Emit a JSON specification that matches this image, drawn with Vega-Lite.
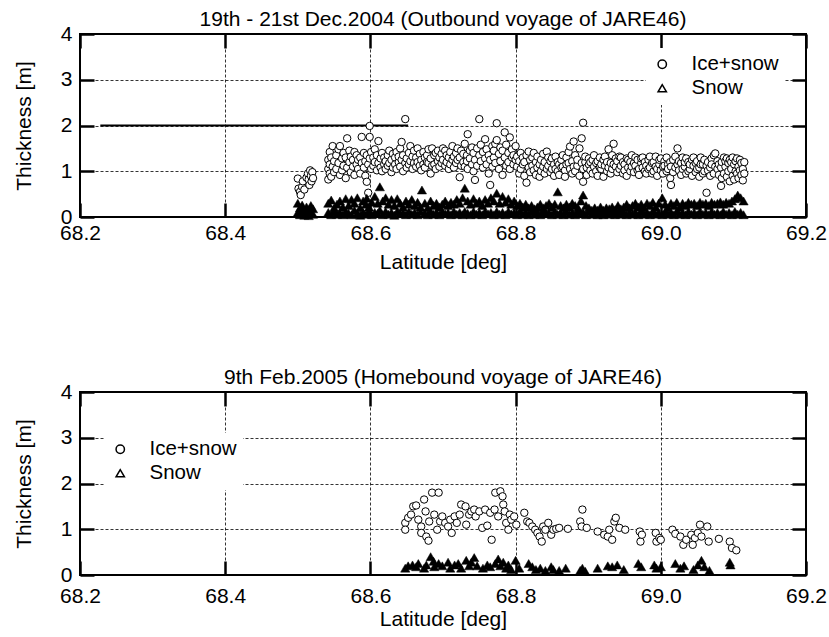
{
"$schema":"https://vega.github.io/schema/vega-lite/v6.json",
"background":"white",
"padding":{"left":12,"top":8,"right":2,"bottom":2},
"bounds":"flush",
"spacing":175,
"datasets":{
"line":[{"a":68.228,"b":68.652,"t":2}],
"topIce":[
{"lat":68.500,"t":0.84},{"lat":68.501,"t":0.62},{"lat":68.503,"t":0.55},{"lat":68.504,"t":0.48},{"lat":68.506,"t":0.66},{"lat":68.507,"t":0.78},{"lat":68.509,"t":0.6},{"lat":68.512,"t":0.86},{"lat":68.514,"t":0.95},{"lat":68.515,"t":0.82},{"lat":68.516,"t":0.7},{"lat":68.517,"t":1.02},{"lat":68.518,"t":0.9},{"lat":68.519,"t":0.78},{"lat":68.520,"t":0.98},{"lat":68.521,"t":0.85},
{"lat":68.542,"t":0.82},{"lat":68.542,"t":1.05},{"lat":68.542,"t":1.25},{"lat":68.544,"t":0.95},{"lat":68.544,"t":1.15},{"lat":68.544,"t":1.42},{"lat":68.546,"t":0.88},{"lat":68.546,"t":1.3},{"lat":68.548,"t":1.1},{"lat":68.548,"t":1.55},{"lat":68.550,"t":0.98},{"lat":68.550,"t":1.22},{"lat":68.553,"t":1.35},{"lat":68.553,"t":1.05},{"lat":68.556,"t":1.48},{"lat":68.556,"t":1.18},{"lat":68.558,"t":1.55},{"lat":68.558,"t":0.92},{"lat":68.561,"t":1.28},{"lat":68.561,"t":1.02},{"lat":68.563,"t":1.12},{"lat":68.563,"t":1.4},{"lat":68.566,"t":0.85},{"lat":68.566,"t":1.3},{"lat":68.568,"t":1.72},{"lat":68.568,"t":1.08},{"lat":68.571,"t":1.2},{"lat":68.571,"t":1.45},{"lat":68.573,"t":0.98},{"lat":68.573,"t":1.32},{"lat":68.576,"t":1.25},{"lat":68.576,"t":1.1},{"lat":68.578,"t":1.42},{"lat":68.578,"t":0.92},{"lat":68.581,"t":1.15},{"lat":68.581,"t":1.35},{"lat":68.583,"t":1.05},{"lat":68.583,"t":1.25},{"lat":68.586,"t":1.3},{"lat":68.586,"t":0.95},{"lat":68.588,"t":1.75},{"lat":68.588,"t":1.18},{"lat":68.591,"t":1.4},{"lat":68.591,"t":1.08},{"lat":68.593,"t":1.22},{"lat":68.593,"t":0.9},{"lat":68.595,"t":0.77},{"lat":68.595,"t":1.35},{"lat":68.597,"t":0.53},{"lat":68.597,"t":1.15},{"lat":68.599,"t":1.99},{"lat":68.599,"t":1.75},{"lat":68.599,"t":1.28},{"lat":68.601,"t":1.05},{"lat":68.601,"t":1.42},{"lat":68.604,"t":1.3},{"lat":68.604,"t":1.12},{"lat":68.606,"t":1.2},{"lat":68.606,"t":1.48},{"lat":68.609,"t":1.02},{"lat":68.609,"t":1.35},{"lat":68.611,"t":1.66},{"lat":68.611,"t":1.18},{"lat":68.614,"t":1.28},{"lat":68.614,"t":1.08},{"lat":68.616,"t":1.4},{"lat":68.616,"t":1.0},{"lat":68.619,"t":1.15},{"lat":68.619,"t":1.3},{"lat":68.621,"t":1.22},{"lat":68.621,"t":1.05},{"lat":68.624,"t":1.35},{"lat":68.624,"t":1.12},{"lat":68.626,"t":1.18},{"lat":68.626,"t":1.45},{"lat":68.629,"t":1.25},{"lat":68.629,"t":0.98},{"lat":68.631,"t":1.08},{"lat":68.631,"t":1.38},{"lat":68.634,"t":1.3},{"lat":68.634,"t":1.15},{"lat":68.636,"t":1.42},{"lat":68.636,"t":1.05},{"lat":68.639,"t":1.2},{"lat":68.639,"t":1.32},{"lat":68.641,"t":1.1},{"lat":68.641,"t":1.5},{"lat":68.643,"t":1.64},{"lat":68.643,"t":1.25},{"lat":68.645,"t":1.0},{"lat":68.645,"t":1.35},{"lat":68.648,"t":2.14},{"lat":68.648,"t":1.18},{"lat":68.650,"t":1.28},{"lat":68.650,"t":1.08},{"lat":68.653,"t":1.4},{"lat":68.653,"t":1.15},{"lat":68.655,"t":1.22},{"lat":68.655,"t":1.55},{"lat":68.658,"t":1.05},{"lat":68.658,"t":1.32},{"lat":68.660,"t":1.18},{"lat":68.660,"t":1.45},{"lat":68.663,"t":1.3},{"lat":68.663,"t":1.1},{"lat":68.665,"t":1.5},{"lat":68.665,"t":1.2},{"lat":68.668,"t":1.12},{"lat":68.668,"t":1.38},{"lat":68.670,"t":1.25},{"lat":68.670,"t":1.02},{"lat":68.673,"t":1.42},{"lat":68.673,"t":1.15},{"lat":68.675,"t":1.08},{"lat":68.675,"t":1.3},{"lat":68.678,"t":1.35},{"lat":68.678,"t":1.2},{"lat":68.680,"t":1.18},{"lat":68.680,"t":1.48},{"lat":68.683,"t":1.28},{"lat":68.683,"t":0.95},{"lat":68.685,"t":1.5},{"lat":68.685,"t":1.12},{"lat":68.688,"t":1.15},{"lat":68.688,"t":1.35},{"lat":68.690,"t":1.4},{"lat":68.690,"t":1.05},{"lat":68.693,"t":1.22},{"lat":68.693,"t":1.45},{"lat":68.695,"t":1.1},{"lat":68.695,"t":1.3},{"lat":68.698,"t":1.38},{"lat":68.698,"t":1.18},{"lat":68.700,"t":1.25},{"lat":68.700,"t":1.5},{"lat":68.703,"t":1.45},{"lat":68.703,"t":1.12},{"lat":68.705,"t":1.2},{"lat":68.705,"t":1.35},{"lat":68.708,"t":1.3},{"lat":68.708,"t":1.05},{"lat":68.710,"t":1.15},{"lat":68.710,"t":1.42},{"lat":68.713,"t":1.55},{"lat":68.713,"t":1.25},{"lat":68.715,"t":1.08},{"lat":68.715,"t":1.32},{"lat":68.718,"t":1.4},{"lat":68.718,"t":1.18},{"lat":68.720,"t":1.25},{"lat":68.720,"t":1.5},{"lat":68.723,"t":0.87},{"lat":68.723,"t":1.3},{"lat":68.725,"t":1.45},{"lat":68.725,"t":1.12},{"lat":68.728,"t":1.2},{"lat":68.728,"t":1.38},{"lat":68.730,"t":1.6},{"lat":68.730,"t":1.1},{"lat":68.733,"t":1.35},{"lat":68.733,"t":1.22},{"lat":68.734,"t":1.81},{"lat":68.734,"t":1.05},{"lat":68.737,"t":1.28},{"lat":68.737,"t":1.45},{"lat":68.740,"t":1.15},{"lat":68.740,"t":1.52},{"lat":68.742,"t":1.4},{"lat":68.742,"t":1.0},{"lat":68.744,"t":0.81},{"lat":68.744,"t":1.25},{"lat":68.747,"t":1.5},{"lat":68.747,"t":1.12},{"lat":68.750,"t":2.14},{"lat":68.750,"t":1.35},{"lat":68.752,"t":1.22},{"lat":68.752,"t":1.58},{"lat":68.755,"t":1.08},{"lat":68.755,"t":1.42},{"lat":68.758,"t":1.7},{"lat":68.758,"t":1.28},{"lat":68.760,"t":1.15},{"lat":68.760,"t":1.48},{"lat":68.763,"t":1.35},{"lat":68.763,"t":0.95},{"lat":68.765,"t":0.7},{"lat":68.765,"t":1.25},{"lat":68.768,"t":1.55},{"lat":68.768,"t":1.1},{"lat":68.770,"t":1.3},{"lat":68.770,"t":1.45},{"lat":68.772,"t":1.18},{"lat":68.772,"t":1.6},{"lat":68.774,"t":2.05},{"lat":68.774,"t":1.68},{"lat":68.777,"t":1.38},{"lat":68.777,"t":1.05},{"lat":68.779,"t":1.22},{"lat":68.779,"t":1.52},{"lat":68.782,"t":1.45},{"lat":68.782,"t":0.92},{"lat":68.785,"t":1.85},{"lat":68.785,"t":1.3},{"lat":68.787,"t":1.12},{"lat":68.787,"t":1.58},{"lat":68.790,"t":1.4},{"lat":68.790,"t":1.2},{"lat":68.792,"t":1.74},{"lat":68.792,"t":1.05},{"lat":68.795,"t":1.3},{"lat":68.795,"t":1.48},{"lat":68.797,"t":1.15},{"lat":68.797,"t":1.35},{"lat":68.800,"t":1.25},{"lat":68.800,"t":1.55},
{"lat":68.802,"t":1.1},{"lat":68.802,"t":1.32},{"lat":68.805,"t":1.22},{"lat":68.805,"t":0.95},{"lat":68.807,"t":1.4},{"lat":68.807,"t":1.05},{"lat":68.810,"t":1.15},{"lat":68.810,"t":1.3},{"lat":68.812,"t":0.9},{"lat":68.812,"t":1.2},{"lat":68.815,"t":0.75},{"lat":68.815,"t":1.35},{"lat":68.818,"t":1.43},{"lat":68.818,"t":1.08},{"lat":68.820,"t":1.25},{"lat":68.820,"t":0.98},{"lat":68.823,"t":1.12},{"lat":68.823,"t":1.3},{"lat":68.825,"t":1.02},{"lat":68.825,"t":1.4},{"lat":68.828,"t":1.2},{"lat":68.828,"t":0.92},{"lat":68.830,"t":1.32},{"lat":68.830,"t":1.08},{"lat":68.833,"t":1.15},{"lat":68.833,"t":0.88},{"lat":68.835,"t":1.0},{"lat":68.835,"t":1.25},{"lat":68.838,"t":1.38},{"lat":68.838,"t":1.1},{"lat":68.840,"t":1.2},{"lat":68.840,"t":0.95},{"lat":68.843,"t":1.43},{"lat":68.843,"t":1.05},{"lat":68.845,"t":1.12},{"lat":68.845,"t":1.3},{"lat":68.848,"t":0.98},{"lat":68.848,"t":1.22},{"lat":68.850,"t":1.28},{"lat":68.850,"t":1.05},{"lat":68.853,"t":1.15},{"lat":68.853,"t":0.9},{"lat":68.855,"t":1.05},{"lat":68.855,"t":1.32},{"lat":68.858,"t":1.2},{"lat":68.858,"t":1.0},{"lat":68.860,"t":0.92},{"lat":68.860,"t":1.15},{"lat":68.863,"t":1.25},{"lat":68.863,"t":1.08},{"lat":68.865,"t":1.1},{"lat":68.865,"t":1.35},{"lat":68.868,"t":1.02},{"lat":68.868,"t":0.88},{"lat":68.870,"t":1.3},{"lat":68.870,"t":1.15},{"lat":68.873,"t":1.18},{"lat":68.873,"t":1.42},{"lat":68.875,"t":1.54},{"lat":68.875,"t":1.05},{"lat":68.878,"t":1.22},{"lat":68.878,"t":0.95},{"lat":68.880,"t":1.65},{"lat":68.880,"t":1.1},{"lat":68.882,"t":1.35},{"lat":68.882,"t":1.0},{"lat":68.885,"t":1.12},{"lat":68.885,"t":1.25},{"lat":68.888,"t":1.5},{"lat":68.888,"t":0.9},{"lat":68.891,"t":1.72},{"lat":68.891,"t":1.18},{"lat":68.893,"t":2.06},{"lat":68.893,"t":0.77},{"lat":68.893,"t":1.05},{"lat":68.896,"t":1.2},{"lat":68.896,"t":1.32},{"lat":68.898,"t":1.08},{"lat":68.898,"t":0.92},{"lat":68.901,"t":1.15},{"lat":68.901,"t":1.28},{"lat":68.903,"t":1.02},{"lat":68.903,"t":1.2},{"lat":68.906,"t":1.25},{"lat":68.906,"t":0.95},{"lat":68.908,"t":1.1},{"lat":68.908,"t":1.35},{"lat":68.911,"t":1.18},{"lat":68.911,"t":1.0},{"lat":68.913,"t":0.9},{"lat":68.913,"t":1.22},{"lat":68.916,"t":1.3},{"lat":68.916,"t":1.08},{"lat":68.918,"t":1.05},{"lat":68.918,"t":1.15},{"lat":68.921,"t":1.25},{"lat":68.921,"t":0.88},{"lat":68.923,"t":1.12},{"lat":68.923,"t":1.32},{"lat":68.926,"t":1.0},{"lat":68.926,"t":1.2},{"lat":68.928,"t":1.48},{"lat":68.928,"t":1.08},{"lat":68.931,"t":1.18},{"lat":68.931,"t":0.95},{"lat":68.933,"t":1.35},{"lat":68.933,"t":1.05},{"lat":68.935,"t":1.6},{"lat":68.935,"t":1.15},{"lat":68.938,"t":1.1},{"lat":68.938,"t":1.28},{"lat":68.940,"t":1.22},{"lat":68.940,"t":0.98},{"lat":68.943,"t":1.05},{"lat":68.943,"t":1.32},{"lat":68.945,"t":1.3},{"lat":68.945,"t":1.12},{"lat":68.948,"t":0.95},{"lat":68.948,"t":1.2},{"lat":68.950,"t":1.15},{"lat":68.950,"t":1.02},{"lat":68.953,"t":1.28},{"lat":68.953,"t":0.9},{"lat":68.955,"t":1.08},{"lat":68.955,"t":1.25},{"lat":68.958,"t":1.2},{"lat":68.958,"t":1.0},{"lat":68.960,"t":1.35},{"lat":68.960,"t":1.1},{"lat":68.963,"t":0.98},{"lat":68.963,"t":1.18},{"lat":68.965,"t":1.12},{"lat":68.965,"t":1.3},{"lat":68.968,"t":1.25},{"lat":68.968,"t":1.02},{"lat":68.970,"t":1.05},{"lat":68.970,"t":0.92},{"lat":68.973,"t":1.18},{"lat":68.973,"t":1.28},{"lat":68.975,"t":1.3},{"lat":68.975,"t":1.08},{"lat":68.978,"t":1.0},{"lat":68.978,"t":1.2},{"lat":68.980,"t":1.12},{"lat":68.980,"t":0.95},{"lat":68.983,"t":1.25},{"lat":68.983,"t":1.05},{"lat":68.985,"t":1.08},{"lat":68.985,"t":1.32},{"lat":68.988,"t":0.95},{"lat":68.988,"t":1.18},{"lat":68.990,"t":1.2},{"lat":68.990,"t":1.0},{"lat":68.993,"t":1.32},{"lat":68.993,"t":1.1},{"lat":68.995,"t":1.05},{"lat":68.995,"t":0.9},{"lat":68.998,"t":1.15},{"lat":68.998,"t":1.25},{"lat":69.000,"t":1.28},{"lat":69.000,"t":1.02},{"lat":69.003,"t":1.1},{"lat":69.003,"t":0.95},{"lat":69.005,"t":1.22},{"lat":69.005,"t":1.12},{"lat":69.008,"t":1.0},{"lat":69.008,"t":1.3},{"lat":69.010,"t":1.15},{"lat":69.010,"t":1.05},{"lat":69.013,"t":0.85},{"lat":69.013,"t":1.2},{"lat":69.014,"t":0.7},{"lat":69.014,"t":1.1},{"lat":69.017,"t":1.25},{"lat":69.017,"t":0.98},{"lat":69.020,"t":1.08},{"lat":69.020,"t":1.32},{"lat":69.023,"t":1.5},{"lat":69.023,"t":1.15},{"lat":69.025,"t":1.02},{"lat":69.025,"t":1.22},{"lat":69.028,"t":1.18},{"lat":69.028,"t":0.92},{"lat":69.030,"t":1.3},{"lat":69.030,"t":1.05},{"lat":69.033,"t":1.1},{"lat":69.033,"t":1.2},{"lat":69.035,"t":0.95},{"lat":69.035,"t":1.28},{"lat":69.038,"t":1.2},{"lat":69.038,"t":1.0},{"lat":69.040,"t":1.05},{"lat":69.040,"t":1.15},{"lat":69.043,"t":1.25},{"lat":69.043,"t":0.9},{"lat":69.045,"t":1.12},{"lat":69.045,"t":1.3},{"lat":69.048,"t":0.98},{"lat":69.048,"t":1.18},{"lat":69.050,"t":1.22},{"lat":69.050,"t":1.05},{"lat":69.053,"t":1.08},{"lat":69.053,"t":0.88},{"lat":69.055,"t":1.3},{"lat":69.055,"t":1.15},{"lat":69.058,"t":1.15},{"lat":69.058,"t":0.95},{"lat":69.060,"t":1.0},{"lat":69.060,"t":1.25},{"lat":69.063,"t":0.53},{"lat":69.063,"t":1.12},{"lat":69.065,"t":1.2},{"lat":69.065,"t":1.02},{"lat":69.068,"t":1.08},{"lat":69.068,"t":0.9},{"lat":69.070,"t":1.28},{"lat":69.070,"t":1.15},{"lat":69.073,"t":1.35},{"lat":69.073,"t":0.95},{"lat":69.075,"t":1.39},{"lat":69.075,"t":1.1},{"lat":69.078,"t":1.05},{"lat":69.078,"t":1.22},{"lat":69.080,"t":0.92},{"lat":69.080,"t":1.15},{"lat":69.083,"t":0.68},{"lat":69.083,"t":1.08},{"lat":69.084,"t":1.2},{"lat":69.084,"t":0.85},{"lat":69.087,"t":1.3},{"lat":69.087,"t":0.95},{"lat":69.089,"t":1.1},{"lat":69.089,"t":1.22},{"lat":69.091,"t":0.88},{"lat":69.091,"t":1.28},{"lat":69.093,"t":1.18},{"lat":69.093,"t":1.0},{"lat":69.095,"t":1.25},{"lat":69.095,"t":0.78},{"lat":69.097,"t":1.05},{"lat":69.097,"t":1.2},{"lat":69.099,"t":0.9},{"lat":69.099,"t":1.3},{"lat":69.101,"t":1.15},{"lat":69.101,"t":0.82},{"lat":69.103,"t":1.22},{"lat":69.103,"t":1.0},{"lat":69.105,"t":0.95},{"lat":69.105,"t":1.28},{"lat":69.107,"t":1.1},{"lat":69.107,"t":0.85},{"lat":69.109,"t":1.25},{"lat":69.109,"t":1.02},{"lat":69.111,"t":0.92},{"lat":69.111,"t":1.18},{"lat":69.113,"t":1.05},{"lat":69.113,"t":0.8},{"lat":69.115,"t":1.2},{"lat":69.115,"t":0.95}
],
"topSnow":[
{"lat":68.500,"t":0.3},{"lat":68.500,"t":0.1},{"lat":68.503,"t":0.2},{"lat":68.503,"t":0.05},{"lat":68.506,"t":0.26},{"lat":68.506,"t":0.12},{"lat":68.509,"t":0.15},{"lat":68.509,"t":0.04},{"lat":68.512,"t":0.22},{"lat":68.512,"t":0.08},{"lat":68.515,"t":0.12},{"lat":68.515,"t":0.03},{"lat":68.518,"t":0.25},{"lat":68.518,"t":0.1},{"lat":68.521,"t":0.18},{"lat":68.521,"t":0.06},
{"lat":68.542,"t":0.3},{"lat":68.542,"t":0.1},{"lat":68.546,"t":0.37},{"lat":68.546,"t":0.05},{"lat":68.550,"t":0.2},{"lat":68.550,"t":0.12},{"lat":68.554,"t":0.28},{"lat":68.554,"t":0.06},{"lat":68.558,"t":0.35},{"lat":68.558,"t":0.1},{"lat":68.562,"t":0.22},{"lat":68.562,"t":0.05},{"lat":68.566,"t":0.4},{"lat":68.566,"t":0.12},{"lat":68.570,"t":0.25},{"lat":68.570,"t":0.08},{"lat":68.574,"t":0.38},{"lat":68.574,"t":0.05},{"lat":68.578,"t":0.3},{"lat":68.578,"t":0.15},{"lat":68.582,"t":0.42},{"lat":68.582,"t":0.08},{"lat":68.586,"t":0.2},{"lat":68.586,"t":0.04},{"lat":68.590,"t":0.35},{"lat":68.590,"t":0.1},{"lat":68.594,"t":0.28},{"lat":68.594,"t":0.06},{"lat":68.595,"t":0.41},{"lat":68.598,"t":0.22},{"lat":68.598,"t":0.12},{"lat":68.602,"t":0.32},{"lat":68.602,"t":0.05},{"lat":68.606,"t":0.45},{"lat":68.606,"t":0.1},{"lat":68.610,"t":0.3},{"lat":68.610,"t":0.08},{"lat":68.613,"t":0.66},{"lat":68.613,"t":0.15},{"lat":68.617,"t":0.35},{"lat":68.617,"t":0.05},{"lat":68.621,"t":0.42},{"lat":68.621,"t":0.12},{"lat":68.625,"t":0.28},{"lat":68.625,"t":0.06},{"lat":68.629,"t":0.38},{"lat":68.629,"t":0.1},{"lat":68.633,"t":0.25},{"lat":68.633,"t":0.04},{"lat":68.637,"t":0.4},{"lat":68.637,"t":0.12},{"lat":68.641,"t":0.3},{"lat":68.641,"t":0.07},{"lat":68.645,"t":0.22},{"lat":68.645,"t":0.1},{"lat":68.649,"t":0.35},{"lat":68.649,"t":0.05},{"lat":68.653,"t":0.28},{"lat":68.653,"t":0.12},{"lat":68.657,"t":0.38},{"lat":68.657,"t":0.06},{"lat":68.661,"t":0.25},{"lat":68.661,"t":0.1},{"lat":68.665,"t":0.32},{"lat":68.665,"t":0.05},{"lat":68.669,"t":0.22},{"lat":68.669,"t":0.12},{"lat":68.671,"t":0.59},{"lat":68.675,"t":0.3},{"lat":68.675,"t":0.08},{"lat":68.679,"t":0.2},{"lat":68.679,"t":0.05},{"lat":68.683,"t":0.35},{"lat":68.683,"t":0.12},{"lat":68.687,"t":0.25},{"lat":68.687,"t":0.06},{"lat":68.691,"t":0.3},{"lat":68.691,"t":0.1},{"lat":68.695,"t":0.22},{"lat":68.695,"t":0.05},{"lat":68.699,"t":0.28},{"lat":68.699,"t":0.12},{"lat":68.703,"t":0.35},{"lat":68.703,"t":0.07},{"lat":68.707,"t":0.25},{"lat":68.707,"t":0.1},{"lat":68.711,"t":0.32},{"lat":68.711,"t":0.05},{"lat":68.715,"t":0.28},{"lat":68.715,"t":0.12},{"lat":68.719,"t":0.38},{"lat":68.719,"t":0.06},{"lat":68.723,"t":0.3},{"lat":68.723,"t":0.1},{"lat":68.727,"t":0.42},{"lat":68.727,"t":0.05},{"lat":68.730,"t":0.63},{"lat":68.730,"t":0.12},{"lat":68.734,"t":0.35},{"lat":68.734,"t":0.08},{"lat":68.738,"t":0.28},{"lat":68.738,"t":0.05},{"lat":68.742,"t":0.4},{"lat":68.742,"t":0.12},{"lat":68.746,"t":0.3},{"lat":68.746,"t":0.06},{"lat":68.750,"t":0.35},{"lat":68.750,"t":0.1},{"lat":68.754,"t":0.25},{"lat":68.754,"t":0.05},{"lat":68.758,"t":0.38},{"lat":68.758,"t":0.12},{"lat":68.762,"t":0.3},{"lat":68.762,"t":0.07},{"lat":68.766,"t":0.42},{"lat":68.766,"t":0.1},{"lat":68.770,"t":0.35},{"lat":68.770,"t":0.05},{"lat":68.774,"t":0.52},{"lat":68.774,"t":0.12},{"lat":68.778,"t":0.3},{"lat":68.778,"t":0.06},{"lat":68.782,"t":0.45},{"lat":68.782,"t":0.1},{"lat":68.786,"t":0.32},{"lat":68.786,"t":0.05},{"lat":68.790,"t":0.4},{"lat":68.790,"t":0.12},{"lat":68.794,"t":0.28},{"lat":68.794,"t":0.07},{"lat":68.798,"t":0.35},{"lat":68.798,"t":0.1},{"lat":68.802,"t":0.25},{"lat":68.802,"t":0.05},{"lat":68.806,"t":0.3},{"lat":68.806,"t":0.12},{"lat":68.810,"t":0.22},{"lat":68.810,"t":0.06},{"lat":68.814,"t":0.28},{"lat":68.814,"t":0.1},{"lat":68.818,"t":0.2},{"lat":68.818,"t":0.05},{"lat":68.822,"t":0.25},{"lat":68.822,"t":0.12},{"lat":68.826,"t":0.18},{"lat":68.826,"t":0.06},{"lat":68.830,"t":0.22},{"lat":68.830,"t":0.1},{"lat":68.834,"t":0.28},{"lat":68.834,"t":0.05},{"lat":68.838,"t":0.2},{"lat":68.838,"t":0.12},{"lat":68.842,"t":0.25},{"lat":68.842,"t":0.07},{"lat":68.846,"t":0.3},{"lat":68.846,"t":0.1},{"lat":68.850,"t":0.22},{"lat":68.850,"t":0.05},{"lat":68.854,"t":0.28},{"lat":68.854,"t":0.12},{"lat":68.858,"t":0.55},{"lat":68.858,"t":0.06},{"lat":68.862,"t":0.25},{"lat":68.862,"t":0.1},{"lat":68.866,"t":0.2},{"lat":68.866,"t":0.05},{"lat":68.870,"t":0.28},{"lat":68.870,"t":0.12},{"lat":68.874,"t":0.22},{"lat":68.874,"t":0.06},{"lat":68.878,"t":0.3},{"lat":68.878,"t":0.1},{"lat":68.882,"t":0.25},{"lat":68.882,"t":0.05},{"lat":68.886,"t":0.2},{"lat":68.886,"t":0.12},{"lat":68.890,"t":0.35},{"lat":68.890,"t":0.07},{"lat":68.893,"t":0.48},{"lat":68.893,"t":0.1},{"lat":68.897,"t":0.25},{"lat":68.897,"t":0.05},{"lat":68.901,"t":0.2},{"lat":68.901,"t":0.12},{"lat":68.905,"t":0.15},{"lat":68.905,"t":0.06},{"lat":68.909,"t":0.2},{"lat":68.909,"t":0.1},{"lat":68.913,"t":0.15},{"lat":68.913,"t":0.05},{"lat":68.917,"t":0.22},{"lat":68.917,"t":0.1},{"lat":68.921,"t":0.15},{"lat":68.921,"t":0.05},{"lat":68.925,"t":0.2},{"lat":68.925,"t":0.1},{"lat":68.929,"t":0.18},{"lat":68.929,"t":0.06},{"lat":68.933,"t":0.22},{"lat":68.933,"t":0.1},{"lat":68.937,"t":0.16},{"lat":68.937,"t":0.05},{"lat":68.941,"t":0.25},{"lat":68.941,"t":0.1},{"lat":68.945,"t":0.18},{"lat":68.945,"t":0.06},{"lat":68.949,"t":0.22},{"lat":68.949,"t":0.1},{"lat":68.953,"t":0.28},{"lat":68.953,"t":0.05},{"lat":68.957,"t":0.2},{"lat":68.957,"t":0.1},{"lat":68.961,"t":0.25},{"lat":68.961,"t":0.06},{"lat":68.965,"t":0.3},{"lat":68.965,"t":0.1},{"lat":68.969,"t":0.22},{"lat":68.969,"t":0.05},{"lat":68.973,"t":0.28},{"lat":68.973,"t":0.12},{"lat":68.977,"t":0.2},{"lat":68.977,"t":0.06},{"lat":68.981,"t":0.3},{"lat":68.981,"t":0.1},{"lat":68.985,"t":0.25},{"lat":68.985,"t":0.05},{"lat":68.989,"t":0.32},{"lat":68.989,"t":0.12},{"lat":68.993,"t":0.22},{"lat":68.993,"t":0.06},{"lat":68.997,"t":0.3},{"lat":68.997,"t":0.1},{"lat":69.002,"t":0.42},{"lat":69.002,"t":0.05},{"lat":69.006,"t":0.28},{"lat":69.006,"t":0.12},{"lat":69.010,"t":0.2},{"lat":69.010,"t":0.06},{"lat":69.014,"t":0.3},{"lat":69.014,"t":0.1},{"lat":69.018,"t":0.25},{"lat":69.018,"t":0.05},{"lat":69.022,"t":0.32},{"lat":69.022,"t":0.12},{"lat":69.026,"t":0.22},{"lat":69.026,"t":0.06},{"lat":69.030,"t":0.3},{"lat":69.030,"t":0.1},{"lat":69.034,"t":0.25},{"lat":69.034,"t":0.05},{"lat":69.038,"t":0.32},{"lat":69.038,"t":0.12},{"lat":69.042,"t":0.28},{"lat":69.042,"t":0.06},{"lat":69.046,"t":0.3},{"lat":69.046,"t":0.1},{"lat":69.050,"t":0.25},{"lat":69.050,"t":0.05},{"lat":69.054,"t":0.32},{"lat":69.054,"t":0.12},{"lat":69.058,"t":0.28},{"lat":69.058,"t":0.06},{"lat":69.062,"t":0.3},{"lat":69.062,"t":0.1},{"lat":69.066,"t":0.25},{"lat":69.066,"t":0.05},{"lat":69.070,"t":0.32},{"lat":69.070,"t":0.12},{"lat":69.074,"t":0.28},{"lat":69.074,"t":0.06},{"lat":69.078,"t":0.3},{"lat":69.078,"t":0.1},{"lat":69.082,"t":0.33},{"lat":69.082,"t":0.05},{"lat":69.086,"t":0.28},{"lat":69.086,"t":0.12},{"lat":69.090,"t":0.32},{"lat":69.090,"t":0.06},{"lat":69.094,"t":0.3},{"lat":69.094,"t":0.1},{"lat":69.098,"t":0.35},{"lat":69.098,"t":0.05},{"lat":69.102,"t":0.4},{"lat":69.102,"t":0.12},{"lat":69.106,"t":0.48},{"lat":69.106,"t":0.06},{"lat":69.110,"t":0.42},{"lat":69.110,"t":0.1},{"lat":69.114,"t":0.35},{"lat":69.114,"t":0.05}
],
"botIce":[
{"lat":68.648,"t":1.14},{"lat":68.648,"t":0.99},{"lat":68.652,"t":1.25},{"lat":68.656,"t":1.32},{"lat":68.659,"t":1.5},{"lat":68.663,"t":1.52},{"lat":68.666,"t":1.21},{"lat":68.670,"t":1.06},{"lat":68.670,"t":0.92},{"lat":68.674,"t":1.65},{"lat":68.676,"t":1.39},{"lat":68.677,"t":0.84},{"lat":68.680,"t":0.75},{"lat":68.681,"t":1.17},{"lat":68.685,"t":1.8},{"lat":68.688,"t":1.32},{"lat":68.692,"t":0.99},{"lat":68.694,"t":1.8},{"lat":68.696,"t":1.17},{"lat":68.699,"t":1.28},{"lat":68.703,"t":1.14},{"lat":68.707,"t":1.06},{"lat":68.710,"t":1.21},{"lat":68.712,"t":0.92},{"lat":68.716,"t":1.28},{"lat":68.719,"t":1.14},{"lat":68.723,"t":1.32},{"lat":68.725,"t":1.54},{"lat":68.731,"t":1.5},{"lat":68.732,"t":1.1},{"lat":68.736,"t":1.32},{"lat":68.739,"t":1.39},{"lat":68.743,"t":1.43},{"lat":68.745,"t":1.28},{"lat":68.750,"t":1.39},{"lat":68.754,"t":1.03},{"lat":68.758,"t":1.43},{"lat":68.761,"t":1.08},{"lat":68.765,"t":1.36},{"lat":68.767,"t":0.77},{"lat":68.771,"t":1.43},{"lat":68.772,"t":1.8},{"lat":68.776,"t":1.28},{"lat":68.779,"t":1.83},{"lat":68.782,"t":1.72},{"lat":68.783,"t":1.54},{"lat":68.785,"t":1.39},{"lat":68.787,"t":1.14},{"lat":68.790,"t":0.99},{"lat":68.792,"t":1.32},{"lat":68.794,"t":1.21},{"lat":68.798,"t":1.28},{"lat":68.801,"t":1.1},{"lat":68.812,"t":1.36},{"lat":68.816,"t":1.17},{"lat":68.819,"t":1.14},{"lat":68.823,"t":1.06},{"lat":68.827,"t":0.99},{"lat":68.830,"t":0.92},{"lat":68.833,"t":0.84},{"lat":68.836,"t":0.73},{"lat":68.838,"t":1.06},{"lat":68.841,"t":0.99},{"lat":68.845,"t":1.14},{"lat":68.849,"t":0.88},{"lat":68.852,"t":0.99},{"lat":68.856,"t":1.01},{"lat":68.860,"t":1.03},{"lat":68.872,"t":1.01},{"lat":68.889,"t":1.17},{"lat":68.891,"t":1.06},{"lat":68.892,"t":1.43},{"lat":68.898,"t":1.03},{"lat":68.913,"t":0.95},{"lat":68.922,"t":0.88},{"lat":68.927,"t":0.84},{"lat":68.929,"t":0.99},{"lat":68.933,"t":0.77},{"lat":68.936,"t":1.17},{"lat":68.938,"t":1.25},{"lat":68.943,"t":1.03},{"lat":68.951,"t":0.99},{"lat":68.971,"t":0.95},{"lat":68.972,"t":0.73},{"lat":68.974,"t":0.88},{"lat":68.993,"t":0.92},{"lat":68.994,"t":0.73},{"lat":68.998,"t":0.81},{"lat":69.000,"t":0.77},{"lat":69.016,"t":0.99},{"lat":69.020,"t":0.9},{"lat":69.027,"t":0.84},{"lat":69.031,"t":0.66},{"lat":69.035,"t":0.77},{"lat":69.042,"t":0.88},{"lat":69.044,"t":0.66},{"lat":69.047,"t":0.81},{"lat":69.051,"t":0.92},{"lat":69.054,"t":1.1},{"lat":69.056,"t":0.84},{"lat":69.064,"t":1.06},{"lat":69.066,"t":0.73},{"lat":69.080,"t":0.79},{"lat":69.095,"t":0.73},{"lat":69.098,"t":0.59},{"lat":69.104,"t":0.54}
],
"botSnow":[
{"lat":68.648,"t":0.15},{"lat":68.652,"t":0.2},{"lat":68.658,"t":0.22},{"lat":68.663,"t":0.18},{"lat":68.666,"t":0.25},{"lat":68.674,"t":0.15},{"lat":68.677,"t":0.22},{"lat":68.683,"t":0.4},{"lat":68.687,"t":0.3},{"lat":68.688,"t":0.18},{"lat":68.694,"t":0.25},{"lat":68.699,"t":0.2},{"lat":68.707,"t":0.28},{"lat":68.710,"t":0.15},{"lat":68.716,"t":0.22},{"lat":68.721,"t":0.25},{"lat":68.725,"t":0.15},{"lat":68.732,"t":0.32},{"lat":68.736,"t":0.2},{"lat":68.739,"t":0.28},{"lat":68.743,"t":0.38},{"lat":68.747,"t":0.2},{"lat":68.755,"t":0.15},{"lat":68.761,"t":0.22},{"lat":68.765,"t":0.18},{"lat":68.772,"t":0.25},{"lat":68.776,"t":0.35},{"lat":68.779,"t":0.2},{"lat":68.783,"t":0.28},{"lat":68.787,"t":0.15},{"lat":68.790,"t":0.22},{"lat":68.794,"t":0.12},{"lat":68.800,"t":0.32},{"lat":68.805,"t":0.15},{"lat":68.818,"t":0.25},{"lat":68.823,"t":0.18},{"lat":68.828,"t":0.12},{"lat":68.834,"t":0.15},{"lat":68.841,"t":0.1},{"lat":68.849,"t":0.18},{"lat":68.852,"t":0.12},{"lat":68.860,"t":0.1},{"lat":68.869,"t":0.15},{"lat":68.889,"t":0.1},{"lat":68.892,"t":0.15},{"lat":68.896,"t":0.08},{"lat":68.913,"t":0.15},{"lat":68.927,"t":0.2},{"lat":68.933,"t":0.18},{"lat":68.940,"t":0.22},{"lat":68.949,"t":0.12},{"lat":68.969,"t":0.25},{"lat":68.973,"t":0.18},{"lat":68.991,"t":0.22},{"lat":68.994,"t":0.15},{"lat":69.000,"t":0.18},{"lat":69.020,"t":0.25},{"lat":69.027,"t":0.15},{"lat":69.032,"t":0.2},{"lat":69.045,"t":0.12},{"lat":69.051,"t":0.22},{"lat":69.056,"t":0.32},{"lat":69.060,"t":0.18},{"lat":69.067,"t":0.1},{"lat":69.095,"t":0.28},{"lat":69.096,"t":0.22}
]
},
"vconcat":[
{
"width":726,"height":183,
"title":{"text":"19th - 21st Dec.2004 (Outbound voyage of JARE46)"},
"layer":[
{"data":{"name":"line"},"mark":{"type":"rule","color":"black","strokeWidth":2},
 "encoding":{"x":{"field":"a","type":"quantitative","scale":{"domain":[68.2,69.2],"nice":false,"zero":false},"axis":{"orient":"bottom","title":null,"labels":false,"grid":false,"domain":false,"ticks":true,"tickSize":14,"offset":-14,"values":[68.2,68.4,68.6,68.8,69.0,69.2]}},"x2":{"field":"b"},"y":{"field":"t","type":"quantitative","scale":{"domain":[0,4],"nice":false},"axis":{"orient":"left","title":null,"labels":false,"grid":false,"domain":false,"ticks":true,"tickSize":14,"offset":-14,"values":[0,1,2,3,4]}}}},
{"data":{"name":"topIce"},"mark":{"type":"point","filled":true,"fill":"white","stroke":"black","strokeWidth":1,"size":55,"opacity":1},
 "encoding":{
  "x":{"field":"lat","type":"quantitative","axis":{"orient":"bottom","title":"Latitude [deg]","values":[68.2,68.4,68.6,68.8,69.0,69.2],"format":".1f","grid":true,"ticks":false,"labelPadding":5,"titlePadding":8}},
  "y":{"field":"t","type":"quantitative","axis":{"orient":"left","title":"Thickness [m]","values":[0,1,2,3,4],"format":"d","grid":true,"ticks":false,"labelPadding":8,"titlePadding":26}},
  "shape":{"datum":"Ice+snow","scale":{"domain":["Ice+snow","Snow"],"range":["circle","triangle-up"]},
   "legend":{"title":null,"orient":"none","legendX":566,"legendY":14,"padding":6,"fillColor":"white","labelFontSize":20.5,"labelFont":"Liberation Sans","labelColor":"black","symbolSize":70,"labelOffset":19,"rowPadding":3,
    "encode":{"symbols":{"update":{"fill":{"signal":"datum.value === 'Snow' ? 'black' : 'white'"},"stroke":{"value":"black"},"strokeWidth":{"value":1},"opacity":{"value":1}}}}}}}},
{"data":{"name":"topSnow"},"mark":{"type":"point","filled":true,"fill":"black","stroke":"black","strokeWidth":0.5,"size":85,"opacity":1},
 "encoding":{
  "x":{"field":"lat","type":"quantitative","axis":{"orient":"top","title":null,"labels":false,"grid":false,"domain":false,"ticks":true,"tickSize":14,"offset":-14,"values":[68.2,68.4,68.6,68.8,69.0,69.2]}},
  "y":{"field":"t","type":"quantitative","axis":{"orient":"right","title":null,"labels":false,"grid":false,"domain":false,"ticks":true,"tickSize":14,"offset":-14,"values":[0,1,2,3,4]}},
  "shape":{"datum":"Snow"}}}
],
"resolve":{"axis":{"x":"independent","y":"independent"}}
},
{
"width":726,"height":183,
"title":{"text":"9th Feb.2005 (Homebound voyage of JARE46)"},
"layer":[
{"data":{"name":"botIce"},"mark":{"type":"point","opacity":0},
 "encoding":{"x":{"field":"lat","type":"quantitative","scale":{"domain":[68.2,69.2],"nice":false,"zero":false},"axis":{"orient":"bottom","title":null,"labels":false,"grid":false,"domain":false,"ticks":true,"tickSize":14,"offset":-14,"values":[68.2,68.4,68.6,68.8,69.0,69.2]}},"y":{"field":"t","type":"quantitative","scale":{"domain":[0,4],"nice":false},"axis":{"orient":"left","title":null,"labels":false,"grid":false,"domain":false,"ticks":true,"tickSize":14,"offset":-14,"values":[0,1,2,3,4]}}}},
{"data":{"name":"botIce"},"mark":{"type":"point","filled":true,"fill":"white","stroke":"black","strokeWidth":1,"size":55,"opacity":1},
 "encoding":{
  "x":{"field":"lat","type":"quantitative","axis":{"orient":"bottom","title":"Latitude [deg]","values":[68.2,68.4,68.6,68.8,69.0,69.2],"format":".1f","grid":true,"ticks":false,"labelPadding":10,"titlePadding":2}},
  "y":{"field":"t","type":"quantitative","axis":{"orient":"left","title":"Thickness [m]","values":[0,1,2,3,4],"format":"d","grid":true,"ticks":false,"labelPadding":8,"titlePadding":26}},
  "shape":{"datum":"Ice+snow","scale":{"domain":["Ice+snow","Snow"],"range":["circle","triangle-up"]},
   "legend":{"title":null,"orient":"none","legendX":24,"legendY":41,"padding":6,"fillColor":"white","labelFontSize":20.5,"labelFont":"Liberation Sans","labelColor":"black","symbolSize":70,"labelOffset":19,"rowPadding":3,
    "encode":{"symbols":{"update":{"fill":{"signal":"datum.value === 'Snow' ? 'black' : 'white'"},"stroke":{"value":"black"},"strokeWidth":{"value":1},"opacity":{"value":1}}}}}}}},
{"data":{"name":"botSnow"},"mark":{"type":"point","filled":true,"fill":"black","stroke":"black","strokeWidth":0.5,"size":85,"opacity":1},
 "encoding":{
  "x":{"field":"lat","type":"quantitative","axis":{"orient":"top","title":null,"labels":false,"grid":false,"domain":false,"ticks":true,"tickSize":14,"offset":-14,"values":[68.2,68.4,68.6,68.8,69.0,69.2]}},
  "y":{"field":"t","type":"quantitative","axis":{"orient":"right","title":null,"labels":false,"grid":false,"domain":false,"ticks":true,"tickSize":14,"offset":-14,"values":[0,1,2,3,4]}},
  "shape":{"datum":"Snow"}}}
],
"resolve":{"axis":{"x":"independent","y":"independent"}}
}
],
"resolve":{"scale":{"shape":"independent"},"legend":{"shape":"independent"}},
"config":{
 "font":"Liberation Sans",
 "view":{"stroke":"black","strokeWidth":2},
 "title":{"font":"Liberation Sans","fontSize":21,"fontWeight":"normal","color":"black","offset":-7},
 "axis":{"labelFont":"Liberation Sans","labelFontSize":21,"labelColor":"black","titleFont":"Liberation Sans","titleFontSize":21,"titleFontWeight":"normal","titleColor":"black","domain":false,"gridColor":"black","gridDash":[3,2],"gridOpacity":1,"gridWidth":0.8,"tickColor":"black","tickWidth":2.5,"labelFlush":false,"labelOverlap":false}
}
}
